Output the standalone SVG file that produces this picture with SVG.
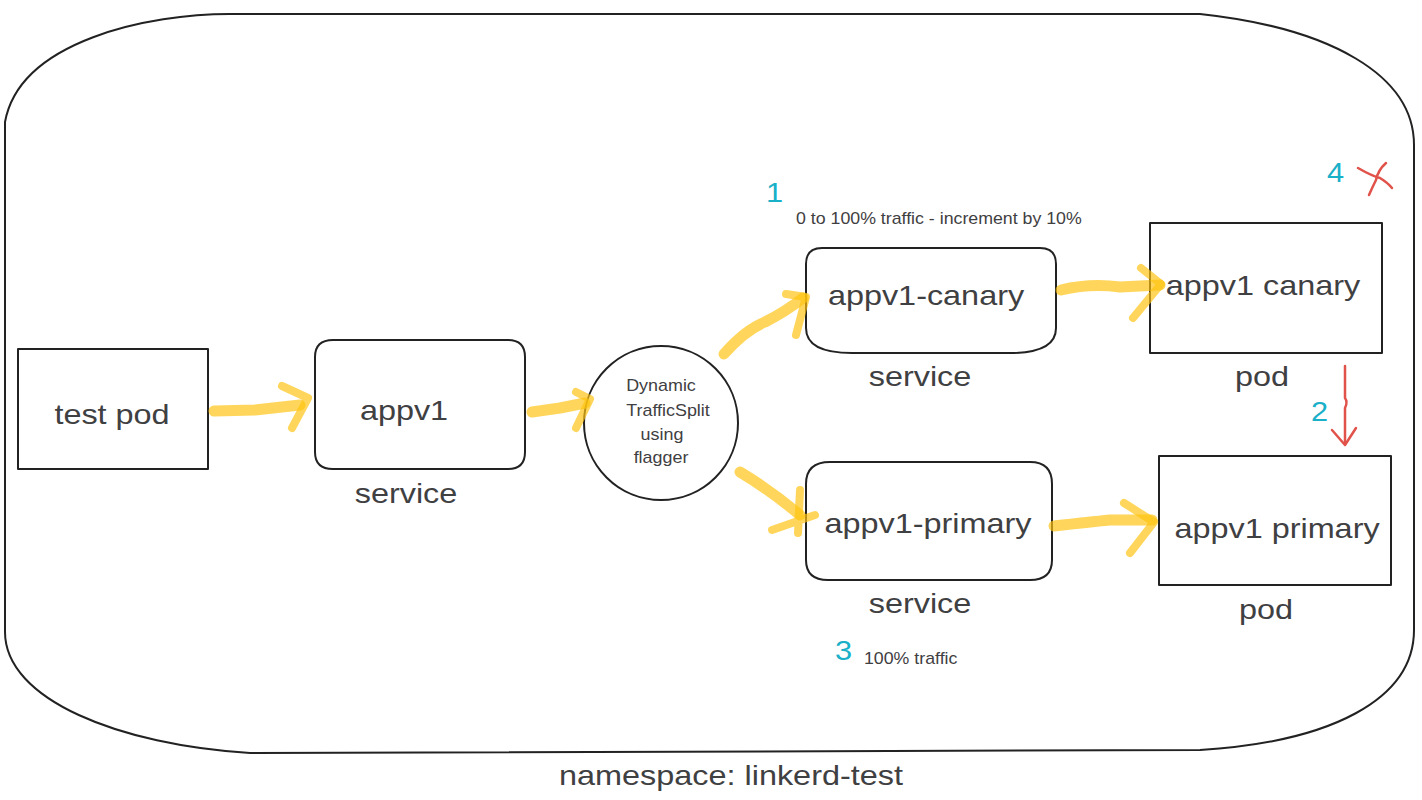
<svg xmlns="http://www.w3.org/2000/svg" width="1422" height="800" viewBox="0 0 1422 800">
<style>
.ln{fill:none;stroke:#222;stroke-width:2;stroke-linejoin:round}
.t{font-family:"Liberation Sans",Arial,sans-serif;fill:#3f4042}
.big{font-size:27px}
.sm{font-size:16px}
.c{text-anchor:middle}
.num{font-family:"Liberation Sans",Arial,sans-serif;fill:#1ab0c8;font-size:28px}
.hl{fill:none;stroke:#ffc20e;stroke-opacity:0.68;stroke-width:11;stroke-linecap:round;stroke-linejoin:round}
.hh{fill:none;stroke:#ffc20e;stroke-opacity:0.68;stroke-width:8;stroke-linecap:round;stroke-linejoin:round}
.red{fill:none;stroke:#e0524a;stroke-width:2.5;stroke-linecap:round;stroke-linejoin:round}
</style>
<rect width="1422" height="800" fill="#fff"/>
<g id="namespace">
<path class="ln" d="M 230 14 H 1200 C 1330 28 1414 75 1414 145 V 630 C 1414 700 1330 742 1200 750 L 250 753 C 120 745 5 700 5 632 V 122 C 20 40 150 14 230 14 Z"/>
<text class="t big c" transform="translate(731 785) scale(1.2 1)">namespace: linkerd-test</text>
</g>
<g id="test-pod">
<rect class="ln" x="18" y="349" width="190" height="120"/>
<text class="t big c" transform="translate(112 424) scale(1.2 1)">test pod</text>
</g>
<g id="appv1">
<path class="ln" d="M 333 340 H 508 Q 525 340 525 357 V 452 Q 525 469 508 469 H 333 Q 315 469 315 452 V 357 Q 315 340 333 340 Z"/>
<text class="t big c" transform="translate(404 420) scale(1.2 1)">appv1</text>
<text class="t big c" transform="translate(406 503) scale(1.2 1)">service</text>
</g>
<g id="trafficsplit">
<circle class="ln" cx="661" cy="423" r="77"/>
<text class="t sm c" transform="translate(661 391) scale(1.12 1)">Dynamic</text>
<text class="t sm c" transform="translate(668 416) scale(1.12 1)">TrafficSplit</text>
<text class="t sm c" transform="translate(662 440) scale(1.12 1)">using</text>
<text class="t sm c" transform="translate(661 463) scale(1.12 1)">flagger</text>
</g>
<g id="appv1-canary">
<path class="ln" d="M 822 248 H 1040 Q 1056 248 1056 264 V 328 Q 1056 353 1010 353 H 852 Q 806 353 806 328 V 264 Q 806 248 822 248 Z"/>
<text class="t big c" transform="translate(926 305) scale(1.2 1)">appv1-canary</text>
<text class="t big c" transform="translate(920 386) scale(1.2 1)">service</text>
</g>
<g id="appv1-primary">
<path class="ln" d="M 830 462 H 1030 Q 1052 462 1052 484 V 560 Q 1052 580 1030 580 H 828 Q 806 580 806 560 V 484 Q 806 462 830 462 Z"/>
<text class="t big c" transform="translate(928 533) scale(1.2 1)">appv1-primary</text>
<text class="t big c" transform="translate(920 613) scale(1.2 1)">service</text>
</g>
<g id="canary-pod">
<rect class="ln" x="1150" y="223" width="232" height="130"/>
<text class="t big c" transform="translate(1263 295) scale(1.2 1)">appv1 canary</text>
<text class="t big c" transform="translate(1262 386) scale(1.2 1)">pod</text>
</g>
<g id="primary-pod">
<rect class="ln" x="1159" y="456" width="232" height="129"/>
<text class="t big c" transform="translate(1277 538) scale(1.2 1)">appv1 primary</text>
<text class="t big c" transform="translate(1266 619) scale(1.2 1)">pod</text>
</g>
<g id="annotations">
<text class="num" transform="translate(766 202) scale(1.1 1)">1</text>
<text class="t sm" transform="translate(796 224) scale(1.11 1)">0 to 100% traffic - increment by 10%</text>
<text class="num" transform="translate(1327 182) scale(1.1 1)">4</text>
<path class="red" d="M 1358 168 Q 1372 176 1380 178 Q 1388 183 1392 188"/>
<path class="red" d="M 1386 163 Q 1378 170 1376 180 Q 1372 188 1369 195"/>
<text class="num" transform="translate(1311 421) scale(1.1 1)">2</text>
<text class="num" transform="translate(835 660) scale(1.1 1)">3</text>
<text class="t sm" transform="translate(864 664) scale(1.11 1)">100% traffic</text>
</g>
<g id="connectors">
<path class="hl" d="M 214 411 L 255 410 L 300 405"/>
<path class="hh" d="M 282 386 L 308 398 L 292 428"/>
<path class="hl" d="M 532 412 L 560 408 L 585 403"/>
<path class="hh" d="M 576 392 L 590 399 L 576 428"/>
<path class="hl" d="M 724 354 Q 745 330 765 322 Q 785 312 803 298"/>
<path class="hh" d="M 786 294 L 806 297 L 796 335"/>
<path class="hl" d="M 1061 290 Q 1090 283 1120 287 L 1160 285"/>
<path class="hh" d="M 1141 268 L 1161 284 L 1133 318"/>
<path class="hl" d="M 740 472 Q 770 490 800 515"/>
<path class="hh" d="M 800 490 L 798 533 M 772 530 L 815 515"/>
<path class="hl" d="M 1054 526 Q 1090 522 1110 520 L 1152 520"/>
<path class="hh" d="M 1124 503 L 1154 522 L 1130 553"/>
<path class="red" d="M 1345 366 V 398 Q 1348 402 1345 408 V 443"/>
<path class="red" d="M 1332 430 L 1345 445 L 1356 428"/>
</g>
</svg>
